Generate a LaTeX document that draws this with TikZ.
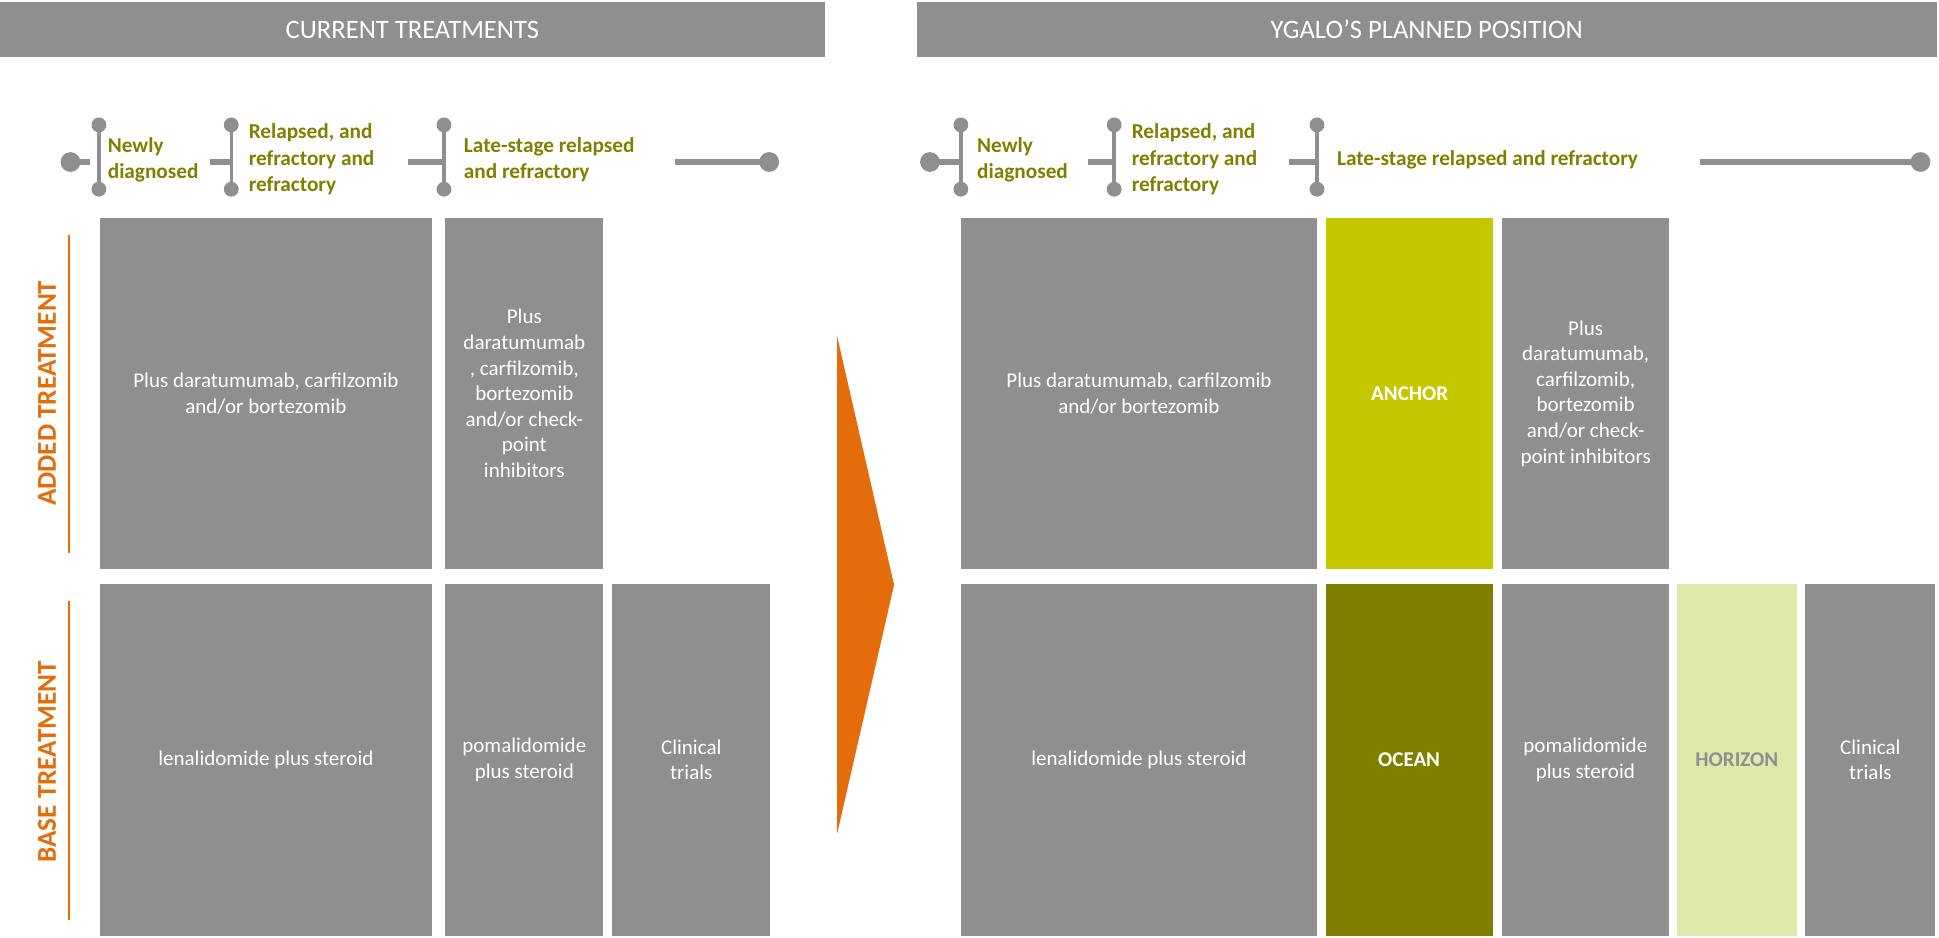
\documentclass[tikz,border=0pt]{standalone}
\usepackage{fontspec}
\setmainfont{Carlito}

\definecolor{boxgray}{RGB}{143,143,143}
\definecolor{stageolive}{RGB}{128,128,0}
\definecolor{anchorgreen}{RGB}{196,200,0}
\definecolor{oceanolive}{RGB}{128,128,0}
\definecolor{horizonpale}{RGB}{223,234,170}
\definecolor{sideorange}{RGB}{228,108,10}

\tikzset{
  headbar/.style={fill=boxgray, text=white, inner sep=0pt, minimum height=44,
    font=\fontsize{21.5}{25}\selectfont},
  treatbox/.style={fill=boxgray, text=white, inner sep=0pt, align=center,
    font=\fontsize{17}{20.7}\selectfont},
  upperbox/.style={treatbox, minimum height=283.5},
  lowerbox/.style={treatbox, minimum height=285},
  stagetext/.style={anchor=west, align=left, inner sep=0pt, text=stageolive,
    font=\bfseries\fontsize{17.2}{21.3}\selectfont},
  sidetext/.style={rotate=90, inner sep=0pt, text=sideorange,
    font=\bfseries\fontsize{22}{25}\selectfont},
  sideline/.style={draw=sideorange, line width=2pt},
  tlbar/.style={draw=boxgray, line width=5.5pt},
  tltick/.style={draw=boxgray, line width=2.8pt},
  tldot/.style={fill=boxgray},
}

\begin{document}
\begin{tikzpicture}[x=1pt, y=-1pt]
\useasboundingbox (0,0) rectangle (1568,758);

% -------- headers -----------
\node[headbar, minimum width=667] (curhead) at (333.5,24) {CURRENT TREATMENTS};
\node[headbar, minimum width=824.5] (planhead) at (1153.75,24) {YGALO’S PLANNED POSITION};

% -------- side labels -----------
\node[sidetext] (addlab) at (38,318) {ADDED TREATMENT};
\node[sidetext] (baselab) at (38,616) {BASE TREATMENT};
\draw[sideline] (56,190) -- (56,447);
\draw[sideline] (56,486) -- (56,744);

% -------- timeline, left -----------
\draw[tlbar] (57,131) -- (73,131);
\fill[tldot] (57,131) circle (8pt);
\draw[tltick] (80,101) -- (80,153);
\fill[tldot] (80,101) circle (6pt) (80,153) circle (6pt);
\node[stagetext] (lnew) at (87,129) {Newly\\diagnosed};

\draw[tlbar] (170,131) -- (187,131);
\draw[tltick] (187,101) -- (187,153);
\fill[tldot] (187,101) circle (6pt) (187,153) circle (6pt);
\node[stagetext] (lrel) at (201,129) {Relapsed, and\\refractory and\\refractory};

\draw[tlbar] (330,131) -- (359,131);
\draw[tltick] (359,101) -- (359,153);
\fill[tldot] (359,101) circle (6pt) (359,153) circle (6pt);
\node[stagetext] (llate) at (375,129) {Late-stage relapsed\\and refractory};

\draw[tlbar] (546,131) -- (622,131);
\fill[tldot] (622,131) circle (8pt);

% -------- timeline, right -----------
\draw[tlbar] (752,131) -- (777,131);
\fill[tldot] (752,131) circle (8pt);
\draw[tltick] (777,101) -- (777,153);
\fill[tldot] (777,101) circle (6pt) (777,153) circle (6pt);
\node[stagetext] (rnew) at (790,129) {Newly\\diagnosed};

\draw[tlbar] (880,131) -- (901,131);
\draw[tltick] (901,101) -- (901,153);
\fill[tldot] (901,101) circle (6pt) (901,153) circle (6pt);
\node[stagetext] (rrel) at (915,129) {Relapsed, and\\refractory and\\refractory};

\draw[tlbar] (1042,131) -- (1065,131);
\draw[tltick] (1065,101) -- (1065,153);
\fill[tldot] (1065,101) circle (6pt) (1065,153) circle (6pt);
\node[stagetext] (rlate) at (1081,129) {Late-stage relapsed and refractory};

\draw[tlbar] (1375,131) -- (1553,131);
\fill[tldot] (1553,131) circle (8pt);

% -------- current treatments -----------
\node[upperbox, minimum width=268] (cadd1) at (215,318.25)
  {Plus daratumumab, carfilzomib\\and/or bortezomib};
\node[upperbox, minimum width=128] (cadd2) at (424,318.25)
  {Plus\\daratumumab\\, carfilzomib,\\bortezomib\\and/or check-\\point\\inhibitors};

\node[lowerbox, minimum width=268] (cbase1) at (215,614.5) {lenalidomide plus steroid};
\node[lowerbox, minimum width=128] (cbase2) at (424,614.5) {pomalidomide\\plus steroid};
\node[lowerbox, minimum width=128] (cbase3) at (559,614.5) {Clinical\\trials};

% -------- arrow between halves -----------
\fill[sideorange] (677,272) -- (723,473) -- (677,674) -- cycle;

% -------- planned position -----------
\node[upperbox, minimum width=288] (padd1) at (921,318.25)
  {Plus daratumumab, carfilzomib\\and/or bortezomib};
\node[upperbox, minimum width=135, fill=anchorgreen, font=\bfseries\fontsize{17}{20.7}\selectfont]
  (anchor) at (1140,318.25) {ANCHOR};
\node[upperbox, minimum width=134.5] (padd3) at (1282.25,318.25)
  {Plus\\daratumumab,\\carfilzomib,\\bortezomib\\and/or check-\\point inhibitors};

\node[lowerbox, minimum width=288] (pbase1) at (921,614.5) {lenalidomide plus steroid};
\node[lowerbox, minimum width=135, fill=oceanolive, font=\bfseries\fontsize{17}{20.7}\selectfont]
  (ocean) at (1139.5,614.5) {OCEAN};
\node[lowerbox, minimum width=134.5] (pbase3) at (1282,614.5) {pomalidomide\\plus steroid};
\node[lowerbox, minimum width=97, fill=horizonpale, text=boxgray,
  font=\bfseries\fontsize{17}{20.7}\selectfont] (horizon) at (1404.5,614.5) {HORIZON};
\node[lowerbox, minimum width=105] (pbase5) at (1512.5,614.5) {Clinical\\trials};

\end{tikzpicture}
\end{document}
